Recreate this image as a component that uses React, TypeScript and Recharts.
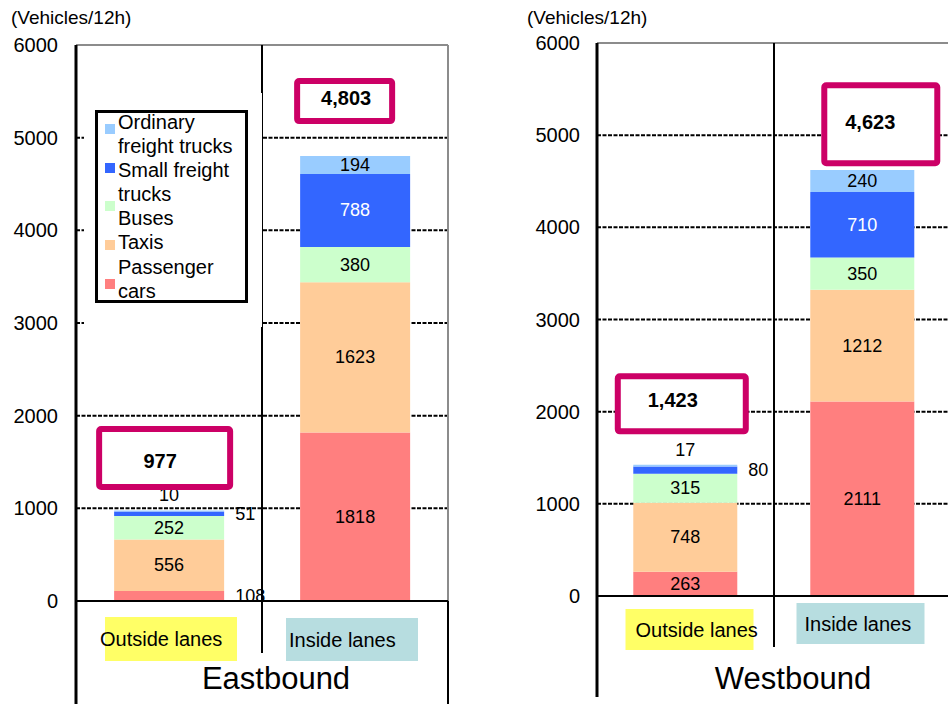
import React from 'react';
import { BarChart, Bar, XAxis, YAxis, CartesianGrid, LabelList, Legend, ReferenceLine } from 'recharts';

// ---------- data ----------
const CATEGORIES = ['Outside lanes', 'Inside lanes'];
const SERIES_KEYS = ['passenger', 'taxis', 'buses', 'smallFreight', 'ordinaryFreight'];
const SERIES_NAMES = ['Passenger cars', 'Taxis', 'Buses', 'Small freight trucks', 'Ordinary freight trucks'];
const SERIES_COLORS = ['#FF7F7F', '#FFCC99', '#CCFFCC', '#3366FF', '#99CCFF'];

const EAST_PASSENGER_CARS = [108, 1818];
const EAST_TAXIS = [556, 1623];
const EAST_BUSES = [252, 380];
const EAST_SMALL_FREIGHT = [51, 788];
const EAST_ORDINARY_FREIGHT = [10, 194];

const WEST_PASSENGER_CARS = [263, 2111];
const WEST_TAXIS = [748, 1212];
const WEST_BUSES = [315, 350];
const WEST_SMALL_FREIGHT = [80, 710];
const WEST_ORDINARY_FREIGHT = [17, 240];

const Y_TICKS = [0, 1000, 2000, 3000, 4000, 5000, 6000];
const GRID_VALUES = [1000, 2000, 3000, 4000, 5000];
const PANEL_TITLES = ['Eastbound', 'Westbound'];
const Y_UNIT = '(Vehicles/12h)';

const EAST_SERIES = [EAST_PASSENGER_CARS, EAST_TAXIS, EAST_BUSES, EAST_SMALL_FREIGHT, EAST_ORDINARY_FREIGHT];
const WEST_SERIES = [WEST_PASSENGER_CARS, WEST_TAXIS, WEST_BUSES, WEST_SMALL_FREIGHT, WEST_ORDINARY_FREIGHT];

function buildRows(series: number[][]) {
  return CATEGORIES.map((cat, i) => {
    const row: any = { cat };
    SERIES_KEYS.forEach((k, s) => {
      row[k] = series[s][i];
    });
    return row;
  });
}
function buildTotals(series: number[][]) {
  return CATEGORIES.map((_, i) => series.reduce((a, s) => a + s[i], 0));
}

const ROWS = [buildRows(EAST_SERIES), buildRows(WEST_SERIES)];
const TOTALS = [buildTotals(EAST_SERIES), buildTotals(WEST_SERIES)];

// ---------- layout / style ----------
const FONT = '"Liberation Sans", Arial, Helvetica, sans-serif';
const H = 704;

const PANEL_LAYOUT = [
  { left: 0, width: 470, top: 45, right: 22, axisW: 76, xAxisH: 103, tickMargin: 10, frameBottom: 704, dividerBottom: 653, unitX: 11, titleX: 276 },
  { left: 470, width: 481, top: 43, right: 0, axisW: 127, xAxisH: 108, tickMargin: 9, frameBottom: 697, dividerBottom: 647, unitX: 527, titleX: 793 },
];

// segment label placement per panel / series / category (null = centered)
const LABEL_PLACE: (string | null)[][][] = [
  [['right', null], [null, null], [null, null], ['right', null], ['above', null]],
  [[null, null], [null, null], [null, null], ['right', null], ['above', null]],
];

// total box geometry relative to bar centre x / bar top y
const TOTAL_BOX_LAYOUT = [
  [
    { bx: -73, by: -84.4, bw: 137, bh: 64, tx: -9, ty: -49 },
    { bx: -61, by: -77.8, bw: 101, bh: 46, tx: -9, ty: -58 },
  ],
  [
    { bx: -70.5, by: -91.5, bw: 134, bh: 61, tx: -12.5, ty: -64.5 },
    { bx: -41, by: -87.6, bw: 119, bh: 84, tx: 8, ty: -47.6 },
  ],
];

// category label boxes relative to tick x / axis y
const CAT_LAYOUT = [
  [
    { rx: -64, ry: 16, rw: 132, rh: 44, tx: -69, ty: 38 },
    { rx: -69, ry: 17, rw: 132, rh: 43, tx: -66, ty: 39 },
  ],
  [
    { rx: -60, ry: 13, rw: 128, rh: 41, tx: -50, ty: 34 },
    { rx: -66, ry: 7, rw: 128, rh: 41, tx: -58, ty: 28 },
  ],
];
const CAT_COLORS = ['#FFFF66', '#B7DDE0'];

// legend swatch tops (relative to legend inner box)
const SWATCH_TOPS = [11, 50, 88, 127, 166];

function getRect(props: any) {
  const vb = props.viewBox && props.viewBox.width != null ? props.viewBox : props;
  let x = Number(vb.x);
  let y = Number(vb.y);
  let w = Number(vb.width);
  let h = Number(vb.height);
  if (h < 0) {
    y = y + h;
    h = -h;
  }
  return { x, y, w, h };
}

function makeSegLabel(panel: number, s: number) {
  return (props: any) => {
    const { x, y, w, h } = getRect(props);
    const idx = Number(props.index);
    if (!isFinite(x) || !isFinite(y)) return null;
    const place = LABEL_PLACE[panel][s][idx];
    let tx = x + w / 2;
    let ty = y + h / 2;
    let anchor: any = 'middle';
    if (place === 'right') {
      tx = x + w + 11;
      anchor = 'start';
    } else if (place === 'above') {
      ty = y - 15;
    }
    const fill = SERIES_KEYS[s] === 'smallFreight' && !place ? '#FFFFFF' : '#000000';
    return (
      <text x={tx} y={ty} textAnchor={anchor} dominantBaseline="central" fontSize={18} fontFamily={FONT} fill={fill}>
        {props.value}
      </text>
    );
  };
}

function makeTotalBox(panel: number) {
  return (props: any) => {
    const { x, y, w } = getRect(props);
    const idx = Number(props.index);
    if (!isFinite(x) || !isFinite(y)) return null;
    const L = TOTAL_BOX_LAYOUT[panel][idx];
    const cx = x + w / 2;
    const total = TOTALS[panel][idx].toLocaleString('en-US');
    return (
      <g>
        <rect x={cx + L.bx + 3} y={y + L.by + 3} width={L.bw - 6} height={L.bh - 6} rx={2} fill="#FFFFFF" stroke="#CC0066" strokeWidth={6} />
        <text x={cx + L.tx} y={y + L.ty} textAnchor="middle" dominantBaseline="central" fontSize={20} fontWeight="bold" fontFamily={FONT} fill="#000">
          {total}
        </text>
      </g>
    );
  };
}

function makeCatTick(panel: number) {
  return (props: any) => {
    const idx = props.index != null ? Number(props.index) : Number(props.payload?.index ?? 0);
    const L = CAT_LAYOUT[panel][idx];
    const x = Number(props.x);
    const y = Number(props.y);
    return (
      <g>
        <rect x={x + L.rx} y={y + L.ry} width={L.rw} height={L.rh} fill={CAT_COLORS[idx]} />
        <text x={x + L.tx} y={y + L.ty} textAnchor="start" dominantBaseline="central" fontSize={20} fontFamily={FONT} fill="#000">
          {props.payload?.value}
        </text>
      </g>
    );
  };
}

const LegendBox = () => {
  const order = [4, 3, 2, 1, 0];
  return (
    <div style={{ position: 'relative', width: 178, height: 234, background: '#FFFFFF' }}>
      <div
        style={{
          position: 'absolute',
          left: 11,
          top: 17,
          width: 153,
          height: 193,
          border: '3px solid #000',
          boxSizing: 'border-box',
          fontFamily: FONT,
          fontSize: 20,
          color: '#000',
        }}
      >
        {order.map((s, i) => (
          <div
            key={'sw' + s}
            style={{ position: 'absolute', left: 7, top: SWATCH_TOPS[i], width: 10, height: 10, background: SERIES_COLORS[s] }}
          />
        ))}
        <div style={{ position: 'absolute', left: 20, top: -3, width: 128, lineHeight: '24.1px', textAlign: 'left' }}>
          {order.map((s) => (
            <div key={'t' + s}>{SERIES_NAMES[s]}</div>
          ))}
        </div>
      </div>
    </div>
  );
};

function Panel({ p }: { p: number }) {
  const L = PANEL_LAYOUT[p];
  const rows = ROWS[p];
  return (
    <div style={{ position: 'absolute', left: L.left, top: 0 }}>
      <BarChart
        width={L.width}
        height={H}
        data={rows}
        margin={{ top: L.top, right: L.right, bottom: 0, left: 0 }}
        barCategoryGap="20.5%"
      >
        <CartesianGrid
          horizontal
          vertical={false}
          horizontalValues={GRID_VALUES}
          stroke="#000"
          strokeWidth={2}
          strokeDasharray="4 1.5"
        />
        <XAxis
          dataKey="cat"
          height={L.xAxisH}
          tickSize={0}
          tickMargin={0}
          interval={0}
          tickLine={false}
          axisLine={{ stroke: '#000', strokeWidth: 2 }}
          tick={makeCatTick(p)}
        />
        <YAxis
          type="number"
          domain={[0, 6000]}
          ticks={Y_TICKS}
          width={L.axisW}
          tickSize={8}
          tickMargin={L.tickMargin}
          tickLine={false}
          allowDataOverflow
          axisLine={{ stroke: '#000', strokeWidth: 3 }}
          tick={{ fontSize: 20, fill: '#000', fontFamily: FONT }}
        />
        <ReferenceLine y={6000} stroke="#8c8c8c" strokeWidth={2} />
        <ReferenceLine x={CATEGORIES[1]} position="start" stroke="#000" strokeWidth={2} />
        {p === 0 && <ReferenceLine x={CATEGORIES[1]} position="end" stroke="#8c8c8c" strokeWidth={2} />}
        {SERIES_KEYS.map((k, s) => (
          <Bar key={k} dataKey={k} name={SERIES_NAMES[s]} stackId="a" fill={SERIES_COLORS[s]} isAnimationActive={false}>
            <LabelList dataKey={k} content={makeSegLabel(p, s)} />
            {s === SERIES_KEYS.length - 1 && <LabelList dataKey={k} content={makeTotalBox(p)} />}
          </Bar>
        ))}
        {p === 0 && (
          <Legend
            layout="horizontal"
            verticalAlign="middle"
            align="center"
            width={178}
            height={234}
            wrapperStyle={{ left: 84, top: 93, width: 178, height: 234 }}
            content={() => <LegendBox />}
          />
        )}
      </BarChart>
    </div>
  );
}

export default function App() {
  const overlays = PANEL_LAYOUT.map((L, p) => {
    const axisX = L.left + L.axisW;
    const plotBottom = H - L.xAxisH;
    const plotRight = L.left + L.width - L.right;
    const divider = axisX + (plotRight - axisX) / 2;
    return (
      <g key={'ov' + p}>
        <line x1={axisX} x2={axisX} y1={plotBottom} y2={L.frameBottom} stroke="#000" strokeWidth={3} />
        <line x1={divider} x2={divider} y1={plotBottom} y2={L.dividerBottom} stroke="#000" strokeWidth={2} />
        {p === 0 && <line x1={plotRight} x2={plotRight} y1={plotBottom} y2={H} stroke="#000" strokeWidth={2} />}
        <text x={L.unitX} y={17} dominantBaseline="central" fontSize={19} fontFamily={FONT} fill="#000">
          {Y_UNIT}
        </text>
        <text x={L.titleX} y={678} textAnchor="middle" dominantBaseline="central" fontSize={31} fontFamily={FONT} fill="#000">
          {PANEL_TITLES[p]}
        </text>
      </g>
    );
  });
  return (
    <div
      style={{
        position: 'absolute',
        left: 0,
        top: 0,
        width: 948,
        height: H,
        overflow: 'hidden',
        background: '#FFFFFF',
        fontFamily: FONT,
      }}
    >
      <Panel p={0} />
      <Panel p={1} />
      <svg width={948} height={H} style={{ position: 'absolute', left: 0, top: 0, pointerEvents: 'none' }}>
        {overlays}
      </svg>
    </div>
  );
}
